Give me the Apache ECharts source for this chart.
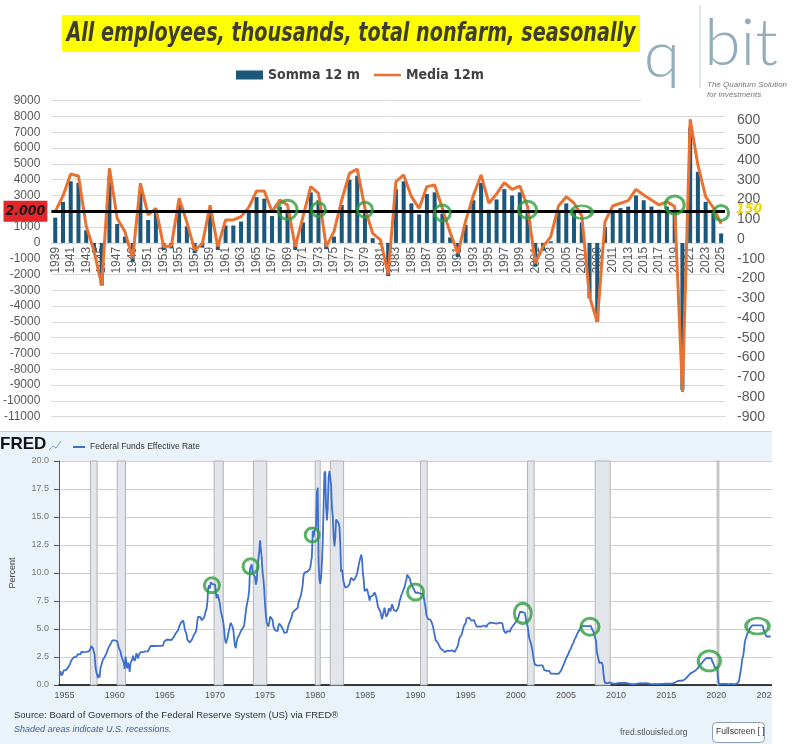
<!DOCTYPE html>
<html>
<head>
<meta charset="utf-8">
<title>Nonfarm payrolls vs Fed Funds</title>
<script src="https://cdn.jsdelivr.net/npm/echarts@6/dist/echarts.min.js"></script>
<style>
  html, body { margin: 0; padding: 0; background: #fff; }
  #chart { width: 795px; height: 744px; }
</style>
</head>
<body>
<div id="chart"></div>
<script>
// ---- top chart: yearly change of nonfarm payrolls ----
const years = ['1939','1940','1941','1942','1943','1944','1945','1946','1947','1948','1949',
  '1950','1951','1952','1953','1954','1955','1956','1957','1958','1959',
  '1960','1961','1962','1963','1964','1965','1966','1967','1968','1969',
  '1970','1971','1972','1973','1974','1975','1976','1977','1978','1979',
  '1980','1981','1982','1983','1984','1985','1986','1987','1988','1989',
  '1990','1991','1992','1993','1994','1995','1996','1997','1998','1999',
  '2000','2001','2002','2003','2004','2005','2006','2007','2008','2009',
  '2010','2011','2012','2013','2014','2015','2016','2017','2018','2019',
  '2020','2021','2022','2023','2024','2025']

// Somma 12 m (thousands, left axis)
const somma = [1600, 2600, 3900, 3800, 800, -600, -2700, 4200, 1200, 400, -1200,
  3300, 1450, 1900, -450, -350, 2400, 1050, -650, -300, 1900,
  -450, 1100, 1100, 1350, 2000, 2900, 2800, 1700, 2300, 2100,
  -450, 1300, 3200, 2700, -400, 400, 2400, 4000, 4250, 1900,
  300, -100, -2100, 3400, 3900, 2500, 1800, 3100, 3200, 1850,
  350, -900, 1150, 2700, 3800, 2100, 2750, 3400, 3000, 3200,
  1900, -1500, -500, 100, 2000, 2500, 2100, 1300, -3500, -5000,
  1000, 2050, 2200, 2300, 3000, 2700, 2300, 2100, 2300, 2000,
  -9300, 7300, 4500, 2600, 2000, 600]

// Media 12m (thousands per month, right axis)
const media = [138, 218, 329, 319, 65, -60, -233, 358, 105, 37, -98,
  282, 122, 155, -39, -34, 206, 85, -56, -25, 170,
  -39, 96, 96, 113, 160, 243, 243, 138, 197, 172,
  -39, 113, 265, 231, -39, 37, 197, 332, 354, 155,
  28, -5, -180, 290, 324, 214, 155, 265, 273, 155,
  33, -73, 90, 220, 324, 181, 228, 285, 251, 268,
  164, -123, -39, 12, 167, 214, 181, 118, -292, -420,
  88, 167, 181, 194, 251, 223, 197, 172, 189, 164,
  -775, 606, 375, 214, 158, 76]

const refLevel = 2000
const refLevelMonthly = 150

// green marks drawn on the top chart: [year, level, width, height]
const topCircles = [['1969', 2100, 19, 19], ['1973', 2100, 14, 14], ['1979', 2100, 15, 15],
  ['1989', 1900, 16, 16], ['2000', 2100, 18, 17], ['2007', 1950, 21, 13],
  ['2019', 2400, 19, 18], ['2025', 1900, 15, 15]]

// ---- bottom chart: Federal Funds Effective Rate, monthly from 1954-07 ----
const fedStartYear = 1954.5
const fedFunds = [
  0.80,1.22,1.07,0.85,0.83,1.28,
  1.39,1.29,1.35,1.43,1.43,1.64,1.68,1.96,2.18,2.24,2.35,2.48,
  2.45,2.50,2.50,2.62,2.75,2.71,2.75,2.73,2.95,2.96,2.88,2.94,
  2.84,3.00,2.96,3.00,3.00,3.00,2.99,3.24,3.47,3.50,3.28,2.98,
  2.72,1.67,1.20,1.26,0.63,0.93,0.68,1.53,1.76,1.80,2.27,2.42,
  2.48,2.43,2.80,2.96,2.90,3.39,3.47,3.50,3.76,3.98,4.00,3.99,
  3.99,3.97,3.84,3.92,3.85,3.32,3.23,2.98,2.60,2.47,2.44,1.98,
  1.45,2.54,2.02,1.49,1.98,1.73,1.17,2.00,1.88,2.26,2.61,2.33,
  2.15,2.37,2.85,2.78,2.36,2.68,2.71,2.93,2.90,2.90,2.94,2.93,
  2.92,3.00,2.98,2.90,3.00,2.99,3.02,3.49,3.48,3.50,3.48,3.38,
  3.48,3.48,3.43,3.47,3.50,3.50,3.42,3.50,3.45,3.36,3.52,3.85,
  3.90,3.98,4.04,4.09,4.10,4.04,4.09,4.12,4.01,4.08,4.10,4.32,
  4.42,4.60,4.65,4.67,4.90,5.17,5.30,5.53,5.40,5.53,5.76,5.40,
  4.94,5.00,4.53,4.05,3.94,3.98,3.79,3.90,3.99,3.88,4.13,4.51,
  4.61,4.71,5.05,5.76,6.11,6.07,6.02,6.03,5.78,5.91,5.82,6.02,
  6.30,6.61,6.79,7.41,8.67,8.90,8.61,9.19,9.15,9.00,8.85,8.97,
  8.98,8.98,7.76,8.10,7.94,7.60,7.21,6.61,6.29,6.20,5.60,4.90,
  4.14,3.72,3.71,4.15,4.63,4.91,5.31,5.56,5.55,5.20,4.91,4.14,
  3.50,3.29,3.83,4.17,4.27,4.46,4.55,4.80,4.87,5.04,5.06,5.33,
  5.94,6.58,7.09,7.12,7.84,8.49,10.40,10.50,10.78,10.01,10.03,9.95,
  9.65,8.97,9.35,10.51,11.31,11.93,12.92,12.01,11.34,10.06,9.45,8.53,
  7.13,6.24,5.54,5.49,5.22,5.55,6.10,6.14,6.24,5.82,5.22,5.20,
  4.87,4.77,4.84,4.82,5.29,5.48,5.31,5.29,5.25,5.02,4.95,4.65,
  4.61,4.68,4.69,4.73,5.35,5.39,5.42,5.90,6.14,6.47,6.51,6.56,
  6.70,6.78,6.79,6.89,7.36,7.60,7.81,8.04,8.45,8.96,9.76,10.03,
  10.07,10.06,10.09,10.01,10.24,10.29,10.47,10.94,11.43,13.77,13.18,13.78,
  13.82,14.13,17.19,17.61,10.98,9.47,9.03,9.61,10.87,12.81,15.85,18.90,
  19.08,15.93,14.70,15.72,18.52,19.10,19.04,17.82,15.87,15.08,13.31,12.37,
  13.22,14.78,14.68,14.94,14.45,14.15,12.59,10.12,10.31,9.71,9.20,8.95,
  8.68,8.51,8.77,8.80,8.63,8.98,9.37,9.56,9.45,9.48,9.34,9.47,
  9.56,9.59,9.91,10.29,10.32,11.06,11.23,11.64,11.30,9.99,9.43,8.38,
  8.35,8.50,8.58,8.27,7.97,7.53,7.88,7.90,7.92,7.99,8.05,8.27,
  8.14,7.86,7.48,6.99,6.85,6.92,6.56,6.17,5.89,5.85,6.04,6.91,
  6.43,6.10,6.13,6.37,6.85,6.73,6.58,6.73,7.22,7.29,6.69,6.77,
  6.83,6.58,6.58,6.87,7.09,7.51,7.75,8.01,8.19,8.30,8.35,8.76,
  9.12,9.36,9.85,9.84,9.81,9.53,9.24,8.99,9.02,8.84,8.55,8.45,
  8.23,8.24,8.28,8.26,8.18,8.29,8.15,8.13,8.20,8.11,7.81,7.31,
  6.91,6.25,6.12,5.91,5.78,5.90,5.82,5.66,5.45,5.21,4.81,4.43,
  4.03,4.06,3.98,3.73,3.82,3.76,3.25,3.30,3.22,3.10,3.09,2.92,
  3.02,3.03,3.07,2.96,3.00,3.04,3.06,3.03,3.09,2.99,3.02,2.96,
  3.05,3.25,3.34,3.56,4.01,4.25,4.26,4.47,4.73,4.76,5.29,5.45,
  5.53,5.92,5.98,6.05,6.01,6.00,5.85,5.74,5.80,5.76,5.80,5.60,
  5.56,5.22,5.31,5.22,5.24,5.27,5.40,5.22,5.30,5.24,5.31,5.29,
  5.25,5.19,5.39,5.51,5.50,5.56,5.52,5.54,5.54,5.50,5.52,5.50,
  5.56,5.51,5.49,5.45,5.49,5.56,5.54,5.55,5.51,5.07,4.83,4.68,
  4.63,4.76,4.81,4.74,4.74,4.76,4.99,5.07,5.22,5.20,5.42,5.30,
  5.45,5.73,5.85,6.02,6.27,6.53,6.54,6.50,6.52,6.51,6.51,6.40,
  5.98,5.49,5.31,4.80,4.21,3.97,3.77,3.65,3.07,2.49,2.09,1.82,
  1.73,1.74,1.73,1.75,1.75,1.75,1.73,1.74,1.75,1.75,1.34,1.24,
  1.24,1.26,1.25,1.26,1.26,1.22,1.01,1.03,1.01,1.01,1.00,0.98,
  1.00,1.01,1.00,1.00,1.00,1.03,1.26,1.43,1.61,1.76,1.93,2.16,
  2.28,2.50,2.63,2.79,3.00,3.04,3.26,3.50,3.62,3.78,4.00,4.16,
  4.29,4.49,4.59,4.79,4.94,4.99,5.24,5.25,5.25,5.25,5.25,5.24,
  5.25,5.26,5.26,5.25,5.25,5.25,5.26,5.02,4.94,4.76,4.49,4.24,
  3.94,2.98,2.61,2.28,1.98,2.00,2.01,2.00,1.81,0.97,0.39,0.16,
  0.15,0.22,0.18,0.15,0.18,0.21,0.16,0.16,0.15,0.12,0.12,0.12,
  0.11,0.13,0.16,0.20,0.20,0.18,0.18,0.19,0.19,0.19,0.19,0.18,
  0.17,0.16,0.14,0.10,0.09,0.09,0.07,0.10,0.08,0.07,0.08,0.07,
  0.08,0.10,0.13,0.14,0.16,0.16,0.16,0.13,0.14,0.16,0.16,0.16,
  0.14,0.15,0.14,0.15,0.11,0.09,0.09,0.08,0.08,0.09,0.08,0.09,
  0.07,0.07,0.08,0.09,0.09,0.10,0.09,0.09,0.09,0.09,0.09,0.12,
  0.11,0.11,0.11,0.12,0.12,0.13,0.13,0.14,0.14,0.12,0.12,0.24,
  0.34,0.38,0.36,0.37,0.37,0.38,0.39,0.40,0.40,0.40,0.41,0.54,
  0.65,0.66,0.79,0.90,0.91,1.04,1.15,1.16,1.15,1.15,1.16,1.30,
  1.41,1.42,1.51,1.69,1.70,1.82,1.91,1.91,1.95,2.19,2.20,2.27,
  2.40,2.40,2.41,2.42,2.39,2.38,2.40,2.13,2.04,1.83,1.55,1.55,
  1.55,1.58,0.65,0.05,0.05,0.08,0.09,0.10,0.09,0.09,0.09,0.09,
  0.09,0.08,0.07,0.07,0.06,0.08,0.10,0.09,0.08,0.08,0.08,0.08,
  0.08,0.08,0.20,0.33,0.77,1.21,1.68,2.33,2.56,3.08,3.78,4.10,
  4.33,4.57,4.65,4.83,5.06,5.08,5.12,5.33,5.33,5.33,5.33,5.33,
  5.33,5.33,5.33,5.33,5.33,5.33,5.33,5.33,5.13,4.83,4.64,4.48,
  4.33,4.33,4.33,4.33,4.33,4.33
]
const fedTicks = [1955, 1960, 1965, 1970, 1975, 1980, 1985, 1990, 1995, 2000, 2005, 2010, 2015, 2020, 2025]
const recessions = [[1957.58, 1958.25], [1960.25, 1961.08], [1969.92, 1970.83], [1973.83, 1975.17],
  [1980.0, 1980.5], [1981.5, 1982.83], [1990.5, 1991.17], [2001.17, 2001.83],
  [2007.92, 2009.42], [2020.08, 2020.25]]
// green marks on the FRED chart: [year, percent, width, height]
const fedCircles = [[1969.7, 8.9, 15, 15], [1973.55, 10.6, 15, 15], [1979.7, 13.4, 14, 14],
  [1990.0, 8.3, 16, 16], [2000.7, 6.4, 17, 20], [2007.4, 5.2, 18, 17],
  [2019.3, 2.15, 22, 20], [2024.1, 5.26, 23, 16]]

const narrow = '"Liberation Sans Narrow", "DejaVu Sans Condensed", sans-serif'
const green = '#2f9e3f'
const lineIcon = 'path://M0,3.5H30V6.5H0Z M0,0H0.01V10H0Z'

const fedSeries = fedFunds.map((v, i) => [fedStartYear + i / 12, v])

// top grid geometry, used to put the year labels on the zero line
const topGrid = { left: 47, right: 70, top: 100.7, height: 316 }
const leftMin = -11000, leftMax = 9000
const zeroOffset = topGrid.height * (0 - leftMin) / (leftMax - leftMin)

const chart = echarts.init(document.getElementById('chart'))

chart.setOption({
  animation: false,
  backgroundColor: '#fff',
  textStyle: { fontFamily: '"Liberation Sans", Arial, sans-serif' },
  legend: [{
    data: [{ name: 'Somma 12 m', icon: 'rect' }, { name: 'Media 12m', icon: lineIcon }],
    left: 231,
    top: 63,
    itemWidth: 27,
    itemHeight: 9,
    itemGap: 14,
    textStyle: { fontFamily: narrow, fontWeight: 'bold', fontSize: 14, color: '#404040' }
  }, {
    data: [{ name: 'Federal Funds Effective Rate', icon: 'path://M0,4H12V6H0Z M0,0H0.01V10H0Z' }],
    left: 68,
    top: 437,
    itemWidth: 12,
    itemHeight: 10,
    textStyle: { fontSize: 8.5, color: '#333' }
  }],
  grid: [
    topGrid,
    { left: 50, right: 23, top: 461, height: 224, show: true, backgroundColor: '#fff', borderWidth: 0 }
  ],
  xAxis: [{
    type: 'category',
    gridIndex: 0,
    data: years,
    offset: -zeroOffset,
    axisLine: { onZero: false, lineStyle: { color: '#d9d9d9' } },
    axisTick: { show: false },
    axisLabel: { rotate: 90, interval: 1, color: '#595959', fontSize: 12, margin: 4 }
  }, {
    type: 'value',
    gridIndex: 1,
    min: 1954.45,
    max: 2025.55,
    splitLine: { show: false },
    axisTick: { show: false },
    axisLine: { lineStyle: { color: '#000', width: 1.5 } },
    axisLabel: { customValues: fedTicks, color: '#555', fontSize: 9, margin: 6, formatter: v => String(v) }
  }],
  yAxis: [{
    type: 'value',
    gridIndex: 0,
    min: leftMin,
    max: leftMax,
    interval: 1000,
    axisLabel: { color: '#595959', fontSize: 12, margin: 11, formatter: v => String(v) },
    splitLine: { lineStyle: { color: '#d9d9d9' } }
  }, {
    type: 'value',
    gridIndex: 0,
    position: 'right',
    min: -900,
    max: 700,
    interval: 100,
    splitLine: { show: false },
    axisLabel: { color: '#595959', fontSize: 14, margin: 12, showMaxLabel: false, formatter: v => String(v) }
  }, {
    type: 'value',
    gridIndex: 1,
    min: 0,
    max: 20,
    interval: 2.5,
    name: 'Percent',
    nameLocation: 'middle',
    nameGap: 42,
    nameTextStyle: { fontSize: 9, color: '#444' },
    axisLabel: { color: '#777', fontSize: 9, margin: 10, formatter: v => v.toFixed(1) },
    splitLine: { lineStyle: { color: '#cfcfcf' } }
  }],
  series: [{
    name: 'Somma 12 m',
    type: 'bar',
    xAxisIndex: 0,
    yAxisIndex: 0,
    data: somma,
    barWidth: '52%',
    itemStyle: { color: '#1b587c' },
    markLine: {
      silent: true,
      symbol: ['none', 'none'],
      lineStyle: { color: '#000', width: 3, type: 'solid' },
      label: {
        position: 'start',
        formatter: '2.000',
        backgroundColor: '#e3262b',
        color: '#1a1a1a',
        fontFamily: narrow,
        fontStyle: 'italic',
        fontWeight: 'bold',
        fontSize: 14,
        padding: [4, 2, 3, 2],
        distance: 4
      },
      data: [{ yAxis: refLevel }]
    }
  }, {
    name: 'Media 12m',
    type: 'line',
    xAxisIndex: 0,
    yAxisIndex: 1,
    data: media,
    symbol: 'none',
    lineStyle: { width: 3, color: '#e97132' },
    itemStyle: { color: '#e97132' },
    markLine: {
      silent: true,
      symbol: ['none', 'none'],
      lineStyle: { color: 'rgba(0,0,0,0)', width: 1 },
      label: {
        show: true,
        position: 'end',
        formatter: String(refLevelMonthly),
        color: '#f2d40c',
        fontFamily: narrow,
        fontStyle: 'italic',
        fontWeight: 'bold',
        fontSize: 14,
        distance: 11
      },
      data: [{ yAxis: refLevelMonthly }]
    }
  }, {
    type: 'scatter',
    xAxisIndex: 0,
    yAxisIndex: 0,
    silent: true,
    symbol: 'circle',
    data: topCircles.map(c => ({ value: [c[0], c[1]], symbolSize: [c[2], c[3]] })),
    itemStyle: { color: 'rgba(0,0,0,0)', borderColor: green, borderWidth: 3 },
    z: 5
  }, {
    name: 'Federal Funds Effective Rate',
    type: 'line',
    xAxisIndex: 1,
    yAxisIndex: 2,
    data: fedSeries,
    symbol: 'none',
    lineStyle: { width: 1.8, color: '#3d6fce' },
    itemStyle: { color: '#3d6fce' },
    markArea: {
      silent: true,
      itemStyle: { color: '#e2e5ea', borderColor: '#b3b3b3', borderWidth: 1 },
      data: recessions.map(r => [{ xAxis: r[0] }, { xAxis: r[1] }])
    }
  }, {
    type: 'scatter',
    xAxisIndex: 1,
    yAxisIndex: 2,
    silent: true,
    symbol: 'circle',
    data: fedCircles.map(c => ({ value: [c[0], c[1]], symbolSize: [c[2], c[3]] })),
    itemStyle: { color: 'rgba(0,0,0,0)', borderColor: green, borderWidth: 3 },
    z: 5
  }],
  graphic: [
    // FRED panel background
    { type: 'rect', z: -100, shape: { x: 0, y: 432, width: 772, height: 312 }, style: { fill: '#eaf2fa' } },
    { type: 'line', z: -99, shape: { x1: 0, y1: 431.5, x2: 772, y2: 431.5 }, style: { stroke: '#cfcfcf', lineWidth: 1 } },
    // clip strip on the right of FRED panel
    { type: 'rect', z: 100, shape: { x: 772, y: 432, width: 23, height: 312 }, style: { fill: '#fff' } },
    // title
    { type: 'rect', z: 10, shape: { x: 62, y: 15, width: 578, height: 37 }, style: { fill: '#ffff00' } },
    {
      type: 'text', z: 11, x: 351, y: 34, scaleX: 0.79,
      style: {
        text: 'All employees, thousands, total nonfarm, seasonally',
        font: 'italic bold 27px ' + narrow,
        fill: '#3e3e2c', align: 'center', verticalAlign: 'middle',
        textAlign: 'center', textVerticalAlign: 'middle'
      }
    },
    // logo
    { type: 'rect', z: 10, shape: { x: 641, y: 0, width: 154, height: 104 }, style: { fill: '#fff' } },
    {
      type: 'text', z: 11, x: 662, y: 56,
      style: { text: 'q', font: '300 66px Lato, "Open Sans", sans-serif', fill: '#93adbb', align: 'center', verticalAlign: 'middle', textAlign: 'center', textVerticalAlign: 'middle' }
    },
    { type: 'line', z: 11, shape: { x1: 700, y1: 5, x2: 700, y2: 88 }, style: { stroke: '#c0ced4', lineWidth: 1 } },
    {
      type: 'text', z: 11, x: 741, y: 44,
      style: { text: 'bit', font: '300 66px Lato, "Open Sans", sans-serif', fill: '#93adbb', align: 'center', verticalAlign: 'middle', textAlign: 'center', textVerticalAlign: 'middle' }
    },
    {
      type: 'text', z: 11, x: 707, y: 85,
      style: { text: 'The Quantum Solution', font: 'italic 8px sans-serif', fill: '#777', verticalAlign: 'middle', textVerticalAlign: 'middle' }
    },
    {
      type: 'text', z: 11, x: 707, y: 95,
      style: { text: 'for investments', font: 'italic 8px sans-serif', fill: '#777', verticalAlign: 'middle', textVerticalAlign: 'middle' }
    },
    // FRED header
    {
      type: 'text', z: 11, x: 0, y: 444,
      style: { text: 'FRED', font: 'bold 17px "Liberation Sans", sans-serif', fill: '#111', verticalAlign: 'middle', textVerticalAlign: 'middle' }
    },
    {
      type: 'polyline', z: 11,
      shape: { points: [[49, 450], [53, 446], [56, 448], [61, 441]] },
      style: { stroke: '#7fa3c9', lineWidth: 1, fill: null }
    },
    // footer
    {
      type: 'text', z: 11, x: 14, y: 715,
      style: { text: 'Source: Board of Governors of the Federal Reserve System (US) via FRED\u00ae', font: '9.5px "Liberation Sans", sans-serif', fill: '#333', verticalAlign: 'middle', textVerticalAlign: 'middle' }
    },
    {
      type: 'text', z: 11, x: 14, y: 729,
      style: { text: 'Shaded areas indicate U.S. recessions.', font: 'italic 9px "Liberation Sans", sans-serif', fill: '#40609a', verticalAlign: 'middle', textVerticalAlign: 'middle' }
    },
    {
      type: 'text', z: 11, x: 620, y: 733,
      style: { text: 'fred.stlouisfed.org', font: '8.5px "Liberation Sans", sans-serif', fill: '#555', verticalAlign: 'middle', textVerticalAlign: 'middle' }
    },
    { type: 'rect', z: 101, shape: { x: 712.5, y: 722.5, width: 52, height: 20, r: 4 }, style: { fill: '#fff', stroke: '#8aa0c0', lineWidth: 1 } },
    {
      type: 'text', z: 102, x: 716, y: 732,
      style: { text: 'Fullscreen [ ]', font: '8.5px "Liberation Sans", sans-serif', fill: '#334', verticalAlign: 'middle', textVerticalAlign: 'middle' }
    }
  ]
})
</script>
</body>
</html>
